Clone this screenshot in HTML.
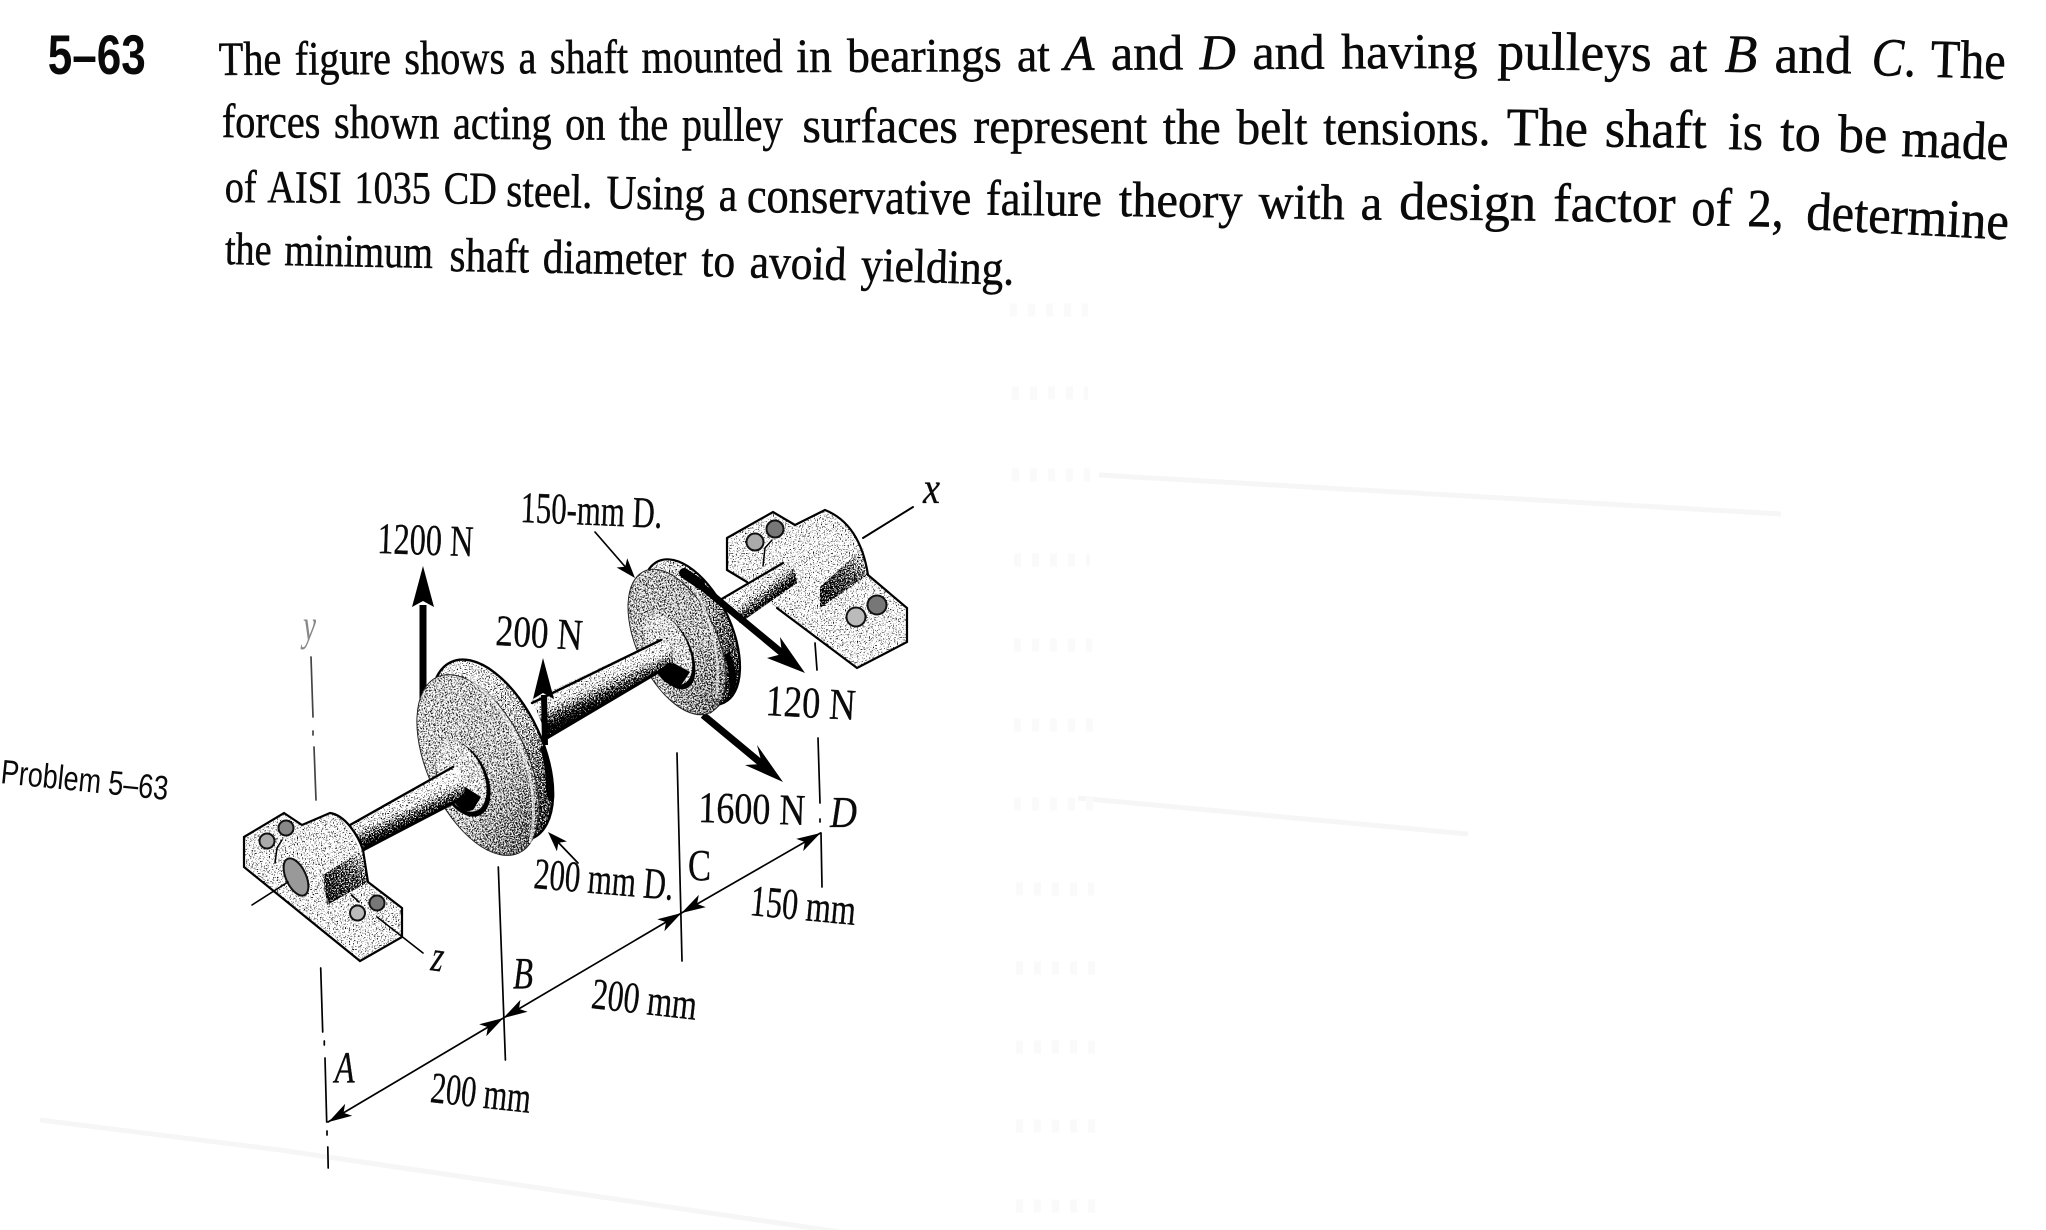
<!DOCTYPE html>
<html><head><meta charset="utf-8"><style>
html,body{margin:0;padding:0;background:#fff;width:2046px;height:1230px;overflow:hidden}
svg{display:block}
text{font-family:"Liberation Serif",serif;fill:#0a0a0a}
.b{stroke:#0a0a0a;stroke-width:.5px;word-spacing:4px}
.l{font-size:44px;stroke:#0a0a0a;stroke-width:.3px}
.i{font-style:italic}
.k{stroke:#000;fill:none;stroke-linecap:round}
</style></head><body>
<svg width="2046" height="1230" viewBox="0 0 2046 1230" xmlns="http://www.w3.org/2000/svg">
<defs>
<filter id="st" filterUnits="userSpaceOnUse" x="220" y="480" width="720" height="520" color-interpolation-filters="sRGB">
<feTurbulence type="fractalNoise" baseFrequency="0.75" numOctaves="2" seed="4" result="n"/>
<feColorMatrix in="n" type="matrix" values="1 0 0 0 0 1 0 0 0 0 1 0 0 0 0 0 0 0 0 1" result="nn"/>
<feComposite in="SourceGraphic" in2="nn" operator="arithmetic" k1="0" k2="1" k3="2.4" k4="-1.2" result="m"/>
<feComponentTransfer in="m" result="c"><feFuncR type="linear" slope="3" intercept="-1"/><feFuncG type="linear" slope="3" intercept="-1"/><feFuncB type="linear" slope="3" intercept="-1"/></feComponentTransfer>
<feComposite in="c" in2="SourceGraphic" operator="in"/>
</filter>
<linearGradient id="sL" gradientUnits="userSpaceOnUse" x1="401" y1="796" x2="414" y2="824"><stop offset="0" stop-color="#f0f0f0"/><stop offset=".4" stop-color="#ccc"/><stop offset=".75" stop-color="#555"/><stop offset="1" stop-color="#000"/></linearGradient>
<linearGradient id="sM" gradientUnits="userSpaceOnUse" x1="596" y1="670" x2="610" y2="700"><stop offset="0" stop-color="#f0f0f0"/><stop offset=".4" stop-color="#ccc"/><stop offset=".75" stop-color="#555"/><stop offset="1" stop-color="#000"/></linearGradient>
<linearGradient id="sR" gradientUnits="userSpaceOnUse" x1="751" y1="581" x2="768" y2="603"><stop offset="0" stop-color="#f0f0f0"/><stop offset=".45" stop-color="#c8c8c8"/><stop offset=".8" stop-color="#555"/><stop offset="1" stop-color="#111"/></linearGradient>
<linearGradient id="fB" gradientUnits="userSpaceOnUse" x1="430" y1="690" x2="525" y2="850"><stop offset="0" stop-color="#b4b4b4"/><stop offset=".6" stop-color="#a8a8a8"/><stop offset="1" stop-color="#686868"/></linearGradient>
<linearGradient id="rB" gradientUnits="userSpaceOnUse" x1="470" y1="660" x2="550" y2="840"><stop offset="0" stop-color="#ddd"/><stop offset=".5" stop-color="#a8a8a8"/><stop offset="1" stop-color="#333"/></linearGradient>
<linearGradient id="fC" gradientUnits="userSpaceOnUse" x1="640" y1="575" x2="715" y2="710"><stop offset="0" stop-color="#a0a0a0"/><stop offset=".6" stop-color="#a4a4a4"/><stop offset="1" stop-color="#707070"/></linearGradient>
<linearGradient id="rC" gradientUnits="userSpaceOnUse" x1="660" y1="565" x2="730" y2="710"><stop offset="0" stop-color="#ccc"/><stop offset=".5" stop-color="#888"/><stop offset="1" stop-color="#222"/></linearGradient>
<linearGradient id="sh" gradientUnits="userSpaceOnUse" x1="825" y1="610" x2="865" y2="550"><stop offset="0" stop-color="#333"/><stop offset=".6" stop-color="#666"/><stop offset="1" stop-color="#ccc"/></linearGradient>
<linearGradient id="shA" gradientUnits="userSpaceOnUse" x1="330" y1="905" x2="365" y2="850"><stop offset="0" stop-color="#333"/><stop offset=".6" stop-color="#666"/><stop offset="1" stop-color="#ccc"/></linearGradient>
</defs>

<!-- faint show-through -->
<g fill="none" stroke="#f6f6f6">
<path d="M1099 475 L1781 514" stroke-width="5"/>
<path d="M1078 798 L1468 834" stroke-width="5"/>
<path d="M40 1120 L280 1150 L840 1232" stroke-width="5"/>
<g stroke="#fafafa" stroke-width="13" stroke-dasharray="7 11">
<path d="M1010 310H1088M1012 393H1088M1012 475H1090M1014 560H1090M1014 645H1092M1014 725H1094M1014 804H1094M1016 889H1094M1016 968H1096M1016 1047H1096M1016 1126H1098M1016 1206H1098"/>
</g>
</g>

<!-- problem text -->
<text transform="translate(47.7 74)" font-size="56" font-weight="bold" style="font-family:'Liberation Sans',sans-serif" textLength="98" lengthAdjust="spacingAndGlyphs">5–63</text>

<g>
<text class="b" font-size="48" transform="translate(218.7 75) rotate(-.3)" textLength="564" lengthAdjust="spacingAndGlyphs">The figure shows a shaft mounted</text>
<text class="b" font-size="48" transform="translate(796.4 72) rotate(-.2)" textLength="253.5" lengthAdjust="spacingAndGlyphs">in bearings at</text>
<text class="b" font-size="50" transform="translate(1063.9 70) rotate(-.3)" textLength="413.6" lengthAdjust="spacingAndGlyphs"><tspan class="i">A</tspan> and <tspan class="i">D</tspan> and having</text>
<text class="b" font-size="54" transform="translate(1497.4 69) rotate(.7)" textLength="354" lengthAdjust="spacingAndGlyphs">pulleys at <tspan class="i">B</tspan> and</text>
<text class="b" font-size="54" transform="translate(1871.3 75) rotate(1.7)" textLength="134" lengthAdjust="spacingAndGlyphs"><tspan class="i">C</tspan>. The</text>

<text class="b" font-size="48" transform="translate(221.7 137) rotate(.4)" textLength="561" lengthAdjust="spacingAndGlyphs">forces shown acting on the pulley</text>
<text class="b" font-size="50" transform="translate(802.4 142) rotate(.25)" textLength="688" lengthAdjust="spacingAndGlyphs">surfaces represent the belt tensions.</text>
<text class="b" font-size="54" transform="translate(1506.4 145) rotate(.85)" textLength="200" lengthAdjust="spacingAndGlyphs">The shaft</text>
<text class="b" font-size="54" transform="translate(1728 149) rotate(1.4)" textLength="159" lengthAdjust="spacingAndGlyphs">is to be</text>
<text class="b" font-size="54" transform="translate(1901 156) rotate(2.1)" textLength="107" lengthAdjust="spacingAndGlyphs">made</text>

<text class="b" font-size="46" transform="translate(224.7 202) rotate(.4)" textLength="272" lengthAdjust="spacingAndGlyphs">of AISI 1035 CD</text>
<text class="b" font-size="48" transform="translate(506 206) rotate(1.2)" textLength="231" lengthAdjust="spacingAndGlyphs">steel. Using a</text>
<text class="b" font-size="50" transform="translate(746.7 212) rotate(.64)" textLength="355" lengthAdjust="spacingAndGlyphs">conservative failure</text>
<text class="b" font-size="50" transform="translate(1118.6 216) rotate(.8)" textLength="263.5" lengthAdjust="spacingAndGlyphs">theory with a</text>
<text class="b" font-size="54" transform="translate(1399 219) rotate(.7)" textLength="276.4" lengthAdjust="spacingAndGlyphs">design factor</text>
<text class="b" font-size="54" transform="translate(1691 225) rotate(1.2)" textLength="92.5" lengthAdjust="spacingAndGlyphs">of 2,</text>
<text class="b" font-size="54" transform="translate(1805.6 229) rotate(3)" textLength="202.8" lengthAdjust="spacingAndGlyphs">determine</text>

<text class="b" font-size="46" transform="translate(224.7 264) rotate(1.1)" textLength="208" lengthAdjust="spacingAndGlyphs">the minimum</text>
<text class="b" font-size="48" transform="translate(449.4 271) rotate(1)" textLength="236.6" lengthAdjust="spacingAndGlyphs">shaft diameter</text>
<text class="b" font-size="48" transform="translate(701 276) rotate(1.6)" textLength="313" lengthAdjust="spacingAndGlyphs">to avoid yielding.</text>
</g>

<text transform="translate(0 783) rotate(5.8)" font-size="34" style="font-family:'Liberation Sans',sans-serif" textLength="168" lengthAdjust="spacingAndGlyphs">Problem 5–63</text>

<!-- stippled bodies, back to front -->
<!-- bearing D -->
<path d="M727 538 L773 512 L795 525 L825 510 C850 520 863 543 868 575 L907 608 L907 642 L857 668 L777 608 L747 582 L727 570Z" fill="#dcdcdc" filter="url(#st)"/>
<path d="M820 608 L868 575 L863 548 L820 587Z" fill="url(#sh)" filter="url(#st)"/>
<path class="k" stroke-width="2.2" d="M727 538 L773 512 L795 525 M795 525 L825 510 C850 520 863 543 868 575 L907 608 L907 642 L857 668 L777 608 M747 582 L727 570 L727 538"/>
<path class="k" stroke-width="1.5" d="M763 566 L765 548 L772 540"/>
<circle cx="755" cy="542" r="8.5" fill="#aaa" stroke="#111" stroke-width="2"/>
<circle cx="775" cy="529" r="8.5" fill="#777" stroke="#111" stroke-width="2"/>
<circle cx="856" cy="617" r="9.5" fill="#bbb" stroke="#111" stroke-width="2"/>
<circle cx="877" cy="605" r="9.5" fill="#777" stroke="#111" stroke-width="2"/>
<path class="k" stroke-width="2" d="M863 538 L913 507"/>

<!-- shaft C-D -->
<path d="M720 600 L783 563 Q795 560 797 583 L740 623Z" fill="url(#sR)" filter="url(#st)"/>
<path class="k" stroke-width="2.2" d="M720 600 L783 563"/>

<!-- 1600 N arrow behind pulley C -->
<path d="M703 715 L768 769" stroke="#000" stroke-width="7" fill="none"/>
<path d="M783 782 L745 765 L762 764 L757 745Z" fill="#000"/>

<!-- pulley C -->
<g filter="url(#st)">
<ellipse cx="691" cy="632" rx="40" ry="78" transform="rotate(-25 691 632)" fill="url(#rC)"/>
<path d="M644 576 L658 564 L724 702 L710 714Z" fill="url(#rC)"/>
</g>
<ellipse cx="691" cy="632" rx="40" ry="78" transform="rotate(-25 691 632)" fill="none" stroke="#000" stroke-width="2.2"/>
<path d="M729 652 C736 665 738 678 735 690 L728 698 C731 682 729 667 724 655Z" fill="#000"/>
<ellipse cx="677" cy="642" rx="40" ry="78" transform="rotate(-25 677 642)" fill="url(#fC)" filter="url(#st)"/>
<ellipse cx="677" cy="642" rx="40" ry="78" transform="rotate(-25 677 642)" fill="none" stroke="#222" stroke-width="1"/>
<path d="M690 582 C712 615 722 660 716 698" fill="none" stroke="#fff" stroke-width="2.5" opacity=".6"/>
<ellipse cx="670" cy="652" rx="21" ry="40" transform="rotate(-25 670 652)" fill="#000"/>
<ellipse cx="668" cy="649" rx="20" ry="38" transform="rotate(-25 668 649)" fill="#c4c4c4" filter="url(#st)"/>
<path d="M655 668 Q665 690 682 684 L690 672 L668 660Z" fill="#000"/>

<!-- shaft B-C -->
<path d="M532 700 L660 640 Q668 640 672 650 L673 663 L548 738Z" fill="url(#sM)" filter="url(#st)"/>
<path class="k" stroke-width="2.4" d="M532 703 L661 640"/>
<path class="k" stroke-width="3" d="M547 738 L660 671 L670 664"/>

<!-- 1200 N and 200 N arrows behind pulley B -->
<path d="M423 700 L423 605" stroke="#000" stroke-width="7" fill="none"/>
<path d="M423 566 L434 607 L423 601 L412 607Z" fill="#000"/>
<path d="M545 745 L544 695" stroke="#000" stroke-width="6" fill="none"/>
<path d="M543 658 L554 699 L543 693 L533 699Z" fill="#000"/>

<!-- pulley B -->
<g filter="url(#st)">
<ellipse cx="492" cy="750" rx="50" ry="97" transform="rotate(-25 492 750)" fill="url(#rB)"/>
<path d="M437 677 L451 662 L533 838 L519 853Z" fill="url(#rB)"/>
</g>
<ellipse cx="492" cy="750" rx="50" ry="97" transform="rotate(-25 492 750)" fill="none" stroke="#000" stroke-width="2.4"/>
<path d="M544 745 C550 760 555 780 554 800 C551 803 547 800 546 790 C546 775 544 760 540 748Z" fill="#000"/>
<ellipse cx="478" cy="765" rx="50" ry="97" transform="rotate(-25 478 765)" fill="url(#fB)" filter="url(#st)"/>
<ellipse cx="478" cy="765" rx="50" ry="97" transform="rotate(-25 478 765)" fill="none" stroke="#222" stroke-width="1"/>
<path d="M467 677 C510 705 545 780 530 843" fill="none" stroke="#fff" stroke-width="3" opacity=".6"/>
<ellipse cx="463" cy="779" rx="24" ry="40" transform="rotate(-25 463 779)" fill="#000"/>
<ellipse cx="461" cy="776" rx="22" ry="38" transform="rotate(-25 461 776)" fill="#c8c8c8" filter="url(#st)"/>
<path d="M450 795 Q460 815 473 810 L481 797 L462 785Z" fill="#000"/>

<!-- shaft A-B -->
<path d="M350 825 L453 767 Q462 765 465 778 L465 797 L363 850Z" fill="url(#sL)" filter="url(#st)"/>
<path class="k" stroke-width="2.4" d="M350 825 L453 767"/>
<path class="k" stroke-width="3" d="M363 850 L455 802 L465 796"/>

<!-- bearing A -->
<path d="M244 837 L284 813 L302 825 L330 813 C345 815 363 850 368 882 L402 908 L402 937 L360 961 L244 867Z" fill="#d8d8d8" filter="url(#st)"/>
<path d="M327 905 L368 882 L363 850 L323 875Z" fill="url(#shA)" filter="url(#st)"/>
<path class="k" stroke-width="2.2" d="M244 837 L284 813 L302 825 M302 825 L330 813 C345 815 358 835 363 850 L368 882 L402 908 L402 937 L360 961 L244 867 L244 837"/>
<path class="k" stroke-width="1.5" d="M275 863 L277 848 L282 840"/>
<circle cx="267" cy="841" r="7.5" fill="#aaa" stroke="#111" stroke-width="2"/>
<circle cx="286" cy="828" r="7.5" fill="#888" stroke="#111" stroke-width="2"/>
<circle cx="357.5" cy="913" r="7.5" fill="#bbb" stroke="#111" stroke-width="2"/>
<circle cx="377" cy="903" r="7.5" fill="#777" stroke="#111" stroke-width="2"/>
<ellipse cx="296" cy="877" rx="10" ry="20" transform="rotate(-25 296 877)" fill="#999" stroke="#111" stroke-width="2"/>
<path class="k" stroke-width="1.6" d="M252 905 L288 882"/>
<path class="k" stroke-width="1.6" d="M351.5 895 L359 902 M377 917 L423 953"/>

<!-- 120 N arrow on top -->
<path d="M688 575 L788 658" stroke="#000" stroke-width="7" fill="none"/>
<path d="M684 573 L700 584" stroke="#000" stroke-width="10" fill="none" stroke-linecap="round"/>
<path d="M805 673 L767 658 L782 654 L780 637Z" fill="#000"/>

<!-- leaders -->
<path class="k" stroke-width="1.7" d="M595 532 L628 570"/>
<path d="M635 578 L616.6 567.5 L625.2 566.7 L627.2 558.3Z" fill="#000"/>
<path class="k" stroke-width="1.7" d="M578 863 L555 839"/>
<path d="M548 832 L566.9 841.5 L558.4 842.8 L556.9 851.3Z" fill="#000"/>

<!-- axis & extension lines -->
<g class="k" stroke-width="1.7">
<path d="M311 657 L313 717 M313 731 L313 735 M314 747 L316 800" stroke="#444"/>
<path d="M815 643 L817 670 M818 738 L820 803 M820 819 L820 822 M821 833 L822 887"/>
<path d="M677 753 L682 961"/>
<path d="M498.3 867 L505.4 1060"/>
<path d="M320.7 968 L322.7 1032 M324.3 1041 L324.3 1045 M325 1058 L326.7 1122 M327 1131 L327 1135 M327.8 1147 L328.2 1168"/>
<path d="M328 1122 L503.4 1018 L681.5 913 L820.5 833"/>
</g>
<g fill="#000">
<path transform="translate(-1.6 0)" d="M505 1018 L487.9 1036.2 L489.5 1027.1 L480.8 1024.2Z"/>
<path d="M328.5 1122 L352.2 1115.8 L343.5 1112.9 L345.2 1103.8Z"/>
<path transform="translate(-1.6 0)" d="M505 1018 L529.2 1011.8 L520.5 1008.9 L522.1 999.8Z"/>
<path transform="translate(-1.5 0)" d="M683 913 L665.9 931.2 L667.5 922.1 L658.8 919.2Z"/>
<path transform="translate(-1.5 0)" d="M683 913 L707.3 907.1 L698.6 904 L700.3 894.9Z"/>
<path transform="translate(-1.5 0)" d="M822 833 L804.7 851.1 L806.4 842 L797.7 838.9Z"/>
</g>

<!-- labels -->
<text class="l" transform="translate(377 553) rotate(2)" textLength="96" lengthAdjust="spacingAndGlyphs">1200 N</text>
<text class="l" transform="translate(520 522) rotate(2.4)" textLength="142" lengthAdjust="spacingAndGlyphs">150-mm D.</text>
<text class="l" transform="translate(495 645) rotate(3.3)" textLength="87" lengthAdjust="spacingAndGlyphs">200 N</text>
<text class="l" transform="translate(765 715) rotate(3.2)" textLength="90" lengthAdjust="spacingAndGlyphs">120 N</text>
<text class="l" transform="translate(698 822) rotate(1.6)" textLength="107" lengthAdjust="spacingAndGlyphs">1600 N</text>
<text class="l i" transform="translate(830 827)" textLength="27" lengthAdjust="spacingAndGlyphs">D</text>
<text class="l" transform="translate(533 888) rotate(4.9)" textLength="140" lengthAdjust="spacingAndGlyphs">200 mm D.</text>
<text class="l" transform="translate(688 880)" textLength="23" lengthAdjust="spacingAndGlyphs">C</text>
<text class="l" transform="translate(749 915) rotate(5.4)" textLength="106" lengthAdjust="spacingAndGlyphs">150 mm</text>
<text class="l" transform="translate(590.4 1008) rotate(6.4)" textLength="105.6" lengthAdjust="spacingAndGlyphs">200 mm</text>
<text class="l" transform="translate(429.5 1102) rotate(6.2)" textLength="100.4" lengthAdjust="spacingAndGlyphs">200 mm</text>
<text class="l i" transform="translate(513 988)" textLength="20" lengthAdjust="spacingAndGlyphs">B</text>
<text class="l i" transform="translate(334.6 1082)" textLength="20" lengthAdjust="spacingAndGlyphs">A</text>
<text class="l i" transform="translate(923 503)" font-size="46" textLength="17" lengthAdjust="spacingAndGlyphs">x</text>
<text class="l i" transform="translate(430 970) rotate(8)" font-size="36" textLength="12" lengthAdjust="spacingAndGlyphs">z</text>
<text class="l i" transform="translate(303 640)" font-size="32" textLength="13" lengthAdjust="spacingAndGlyphs" style="fill:#888;stroke:none">y</text>
</svg>
</body></html>
